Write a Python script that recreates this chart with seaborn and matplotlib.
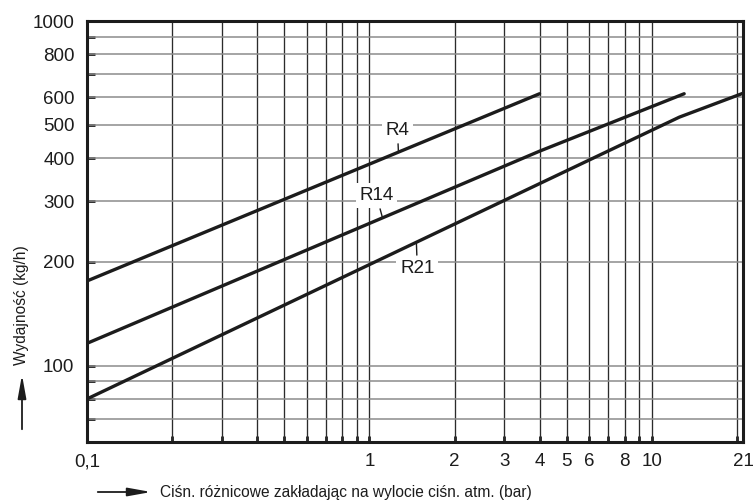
import matplotlib
matplotlib.use("Agg")
import matplotlib.pyplot as plt
import numpy as np
import pandas as pd
import seaborn as sns
from matplotlib.ticker import FixedLocator, FixedFormatter, NullLocator

# Capacity curves: differential pressure (bar) vs. capacity (kg/h)
r4_dp = [0.1, 4.0]
r4_q = [176, 615]
r14_dp = [0.1, 4.0, 13.0]
r14_q = [116, 419, 615]
r21_dp = [0.1, 12.5, 21.0]
r21_q = [80, 526, 617]

series_names = ["R4", "R14", "R21"]

x_ticks = [0.1, 1, 2, 3, 4, 5, 6, 8, 10, 21]
x_tick_labels = ["0,1", "1", "2", "3", "4", "5", "6", "8", "10", "21"]
y_ticks = [100, 200, 300, 400, 500, 600, 800, 1000]
y_tick_labels = ["100", "200", "300", "400", "500", "600", "800", "1000"]

x_grid = [0.2, 0.3, 0.4, 0.5, 0.6, 0.7, 0.8, 0.9,
          1, 2, 3, 4, 5, 6, 7, 8, 9, 10, 20]
y_grid = [70, 80, 90, 100, 200, 300, 400, 500, 600, 700, 800, 900]

x_label = "Ciśn. różnicowe zakładając na wylocie ciśn. atm. (bar)"
y_label = "Wydajność (kg/h)"

frames = []
for name, dp, q in zip(series_names, [r4_dp, r14_dp, r21_dp], [r4_q, r14_q, r21_q]):
    frames.append(pd.DataFrame({"dp": dp, "q": q, "series": name}))
df = pd.concat(frames, ignore_index=True)

sns.set_style("white")
plt.rcParams["font.family"] = ["Liberation Sans", "DejaVu Sans"]

fig = plt.figure(figsize=(7.56, 5.04), dpi=100)
W, H = 756, 504
ax = fig.add_axes([87 / W, 1 - 442 / H, (743 - 87) / W, (442 - 21) / H])

ax.set_xscale("log")
ax.set_yscale("log")
ax.set_xlim(0.1, 21)
ax.set_ylim(60, 1000)

# grid
for gx in x_grid:
    ax.axvline(gx, color="#2b2b2b", lw=0.95, zorder=1)
for gy in y_grid:
    ax.axhline(gy, color="#8c8c8c", lw=1.1, zorder=1)

sns.lineplot(data=df, x="dp", y="q", hue="series", units="series",
             estimator=None, sort=False, legend=False,
             palette={n: "#1c1c1c" for n in series_names},
             lw=2.4, ax=ax, zorder=3)

for sp in ax.spines.values():
    sp.set_visible(True)
    sp.set_linewidth(2.2)
    sp.set_color("#1c1c1c")
    sp.set_zorder(4)

ax.xaxis.set_major_locator(FixedLocator(x_ticks))
ax.xaxis.set_major_formatter(FixedFormatter(x_tick_labels))
ax.xaxis.set_minor_locator(FixedLocator([g for g in x_grid if g not in x_ticks]))
ax.yaxis.set_major_locator(FixedLocator(y_ticks))
ax.yaxis.set_major_formatter(FixedFormatter(y_tick_labels))
ax.yaxis.set_minor_locator(FixedLocator([g for g in y_grid if g not in y_ticks]))

ax.tick_params(axis="x", which="both", direction="in", length=4, width=2,
               color="#1c1c1c", labelsize=13.5, labelcolor="#1c1c1c", pad=8, bottom=True)
ax.tick_params(axis="y", which="both", direction="in", length=6, width=2,
               color="#1c1c1c", labelsize=13.5, labelcolor="#1c1c1c", pad=9, left=True)
ax.set_xlabel("")
ax.set_ylabel("")

# curve labels with leader lines
label_specs = [
    ("R4", (1.256, 482), (1.266, 417)),
    ("R14", (1.058, 312), (1.111, 269)),
    ("R21", (1.477, 191), (1.466, 226)),
]
for text, txy, pxy in label_specs:
    ax.annotate(text, xy=pxy, xytext=txy, ha="center", va="center",
                fontsize=13.5, color="#1c1c1c", zorder=5,
                bbox=dict(boxstyle="square,pad=0.2", fc="white", ec="none"),
                arrowprops=dict(arrowstyle="-", lw=1.0, color="#1c1c1c",
                                shrinkA=1, shrinkB=0))

# axis titles with arrows
fig.text(22 / W, 1 - 305 / H, y_label, rotation=90, ha="center", va="center",
         fontsize=11.2, color="#1c1c1c")
fig.text(160 / W, 1 - 492 / H, x_label, ha="left", va="center",
         fontsize=11.2, color="#1c1c1c")

arrow_style = "-|>,head_length=1.0,head_width=0.18"
fig.add_artist(matplotlib.patches.FancyArrowPatch(
    (22 / W, 1 - 432 / H), (22 / W, 1 - 372 / H), transform=fig.transFigure,
    arrowstyle=arrow_style, mutation_scale=14, lw=1.3, color="#1c1c1c"))
fig.add_artist(matplotlib.patches.FancyArrowPatch(
    (95 / W, 1 - 492 / H), (154 / W, 1 - 492 / H), transform=fig.transFigure,
    arrowstyle=arrow_style, mutation_scale=14, lw=1.3, color="#1c1c1c"))

fig.savefig("out.png", dpi=100)
